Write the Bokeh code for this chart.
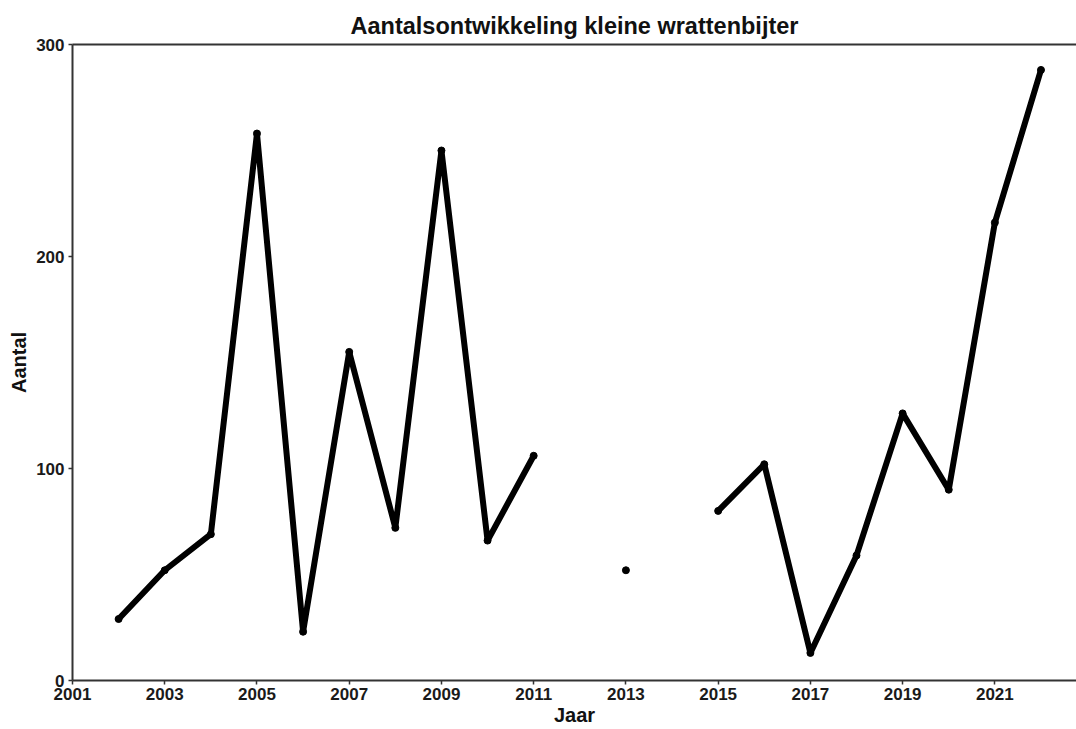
import math
from bokeh.plotting import figure
from bokeh.models import FixedTicker, LinearAxis, Range1d
from bokeh.embed import file_html
from bokeh.resources import INLINE

nan = float("nan")

years = [2002, 2003, 2004, 2005, 2006, 2007, 2008, 2009, 2010, 2011,
         2012, 2013, 2014, 2015, 2016, 2017, 2018, 2019, 2020, 2021, 2022]
counts = [29, 52, 69, 258, 23, 155, 72, 250, 66, 106,
          nan, 52, nan, 80, 102, 13, 59, 126, 90, 216, 288]

x_ticks = [2001, 2003, 2005, 2007, 2009, 2011, 2013, 2015, 2017, 2019, 2021]
y_ticks = [0, 100, 200, 300]

title_text = "Aantalsontwikkeling kleine wrattenbijter"
x_label = "Jaar"
y_label = "Aantal"

FONT = "Liberation Sans"
AXIS_COLOR = "#333333"

p = figure(width=1076, height=729, output_backend="svg", toolbar_location=None,
           x_range=Range1d(2001, 2022.77), y_range=Range1d(0, 300),
           min_border_left=72, min_border_right=0, min_border_top=44,
           min_border_bottom=49, title=title_text)

p.title.text_font = FONT
p.title.text_font_size = "23.5px"
p.title.text_font_style = "bold"
p.title.text_color = "#111111"
p.title.align = "center"
p.title.offset = 10
p.title.standoff = 11

p.grid.visible = False
p.outline_line_color = None
p.background_fill_color = "white"
p.border_fill_color = "white"

for ax in (p.xaxis[0], p.yaxis[0]):
    ax.axis_line_color = AXIS_COLOR
    ax.axis_line_width = 2
    ax.major_tick_line_color = AXIS_COLOR
    ax.major_tick_line_width = 1.5
    ax.major_tick_out = 4
    ax.major_tick_in = 0
    ax.minor_tick_line_color = None
    ax.major_label_text_font = FONT
    ax.major_label_text_font_size = "17px"
    ax.major_label_text_font_style = "bold"
    ax.major_label_text_color = "#1a1a1a"
    ax.axis_label_text_font = FONT
    ax.axis_label_text_font_size = "20px"
    ax.axis_label_text_font_style = "bold"
    ax.axis_label_text_color = "#111111"

p.xaxis[0].ticker = FixedTicker(ticks=x_ticks)
p.yaxis[0].ticker = FixedTicker(ticks=y_ticks)
p.xaxis[0].axis_label = x_label
p.yaxis[0].axis_label = y_label
p.xaxis[0].major_label_standoff = 3
p.xaxis[0].axis_label_standoff = 1
p.yaxis[0].major_label_standoff = 4
p.yaxis[0].axis_label_standoff = 3

top_axis = LinearAxis(ticker=FixedTicker(ticks=[]), axis_line_color=AXIS_COLOR,
                      axis_line_width=2, major_tick_line_color=None,
                      major_tick_out=0, major_tick_in=0, major_label_standoff=0,
                      minor_tick_line_color=None, minor_tick_out=0,
                      major_label_text_font_size="0px")
p.add_layout(top_axis, "above")

p.line(years, counts, line_color="black", line_width=6,
       line_join="round", line_cap="round")
p.scatter(years, counts, size=7, fill_color="black", line_color="black")

open("out.html", "w").write(file_html(p, INLINE))
